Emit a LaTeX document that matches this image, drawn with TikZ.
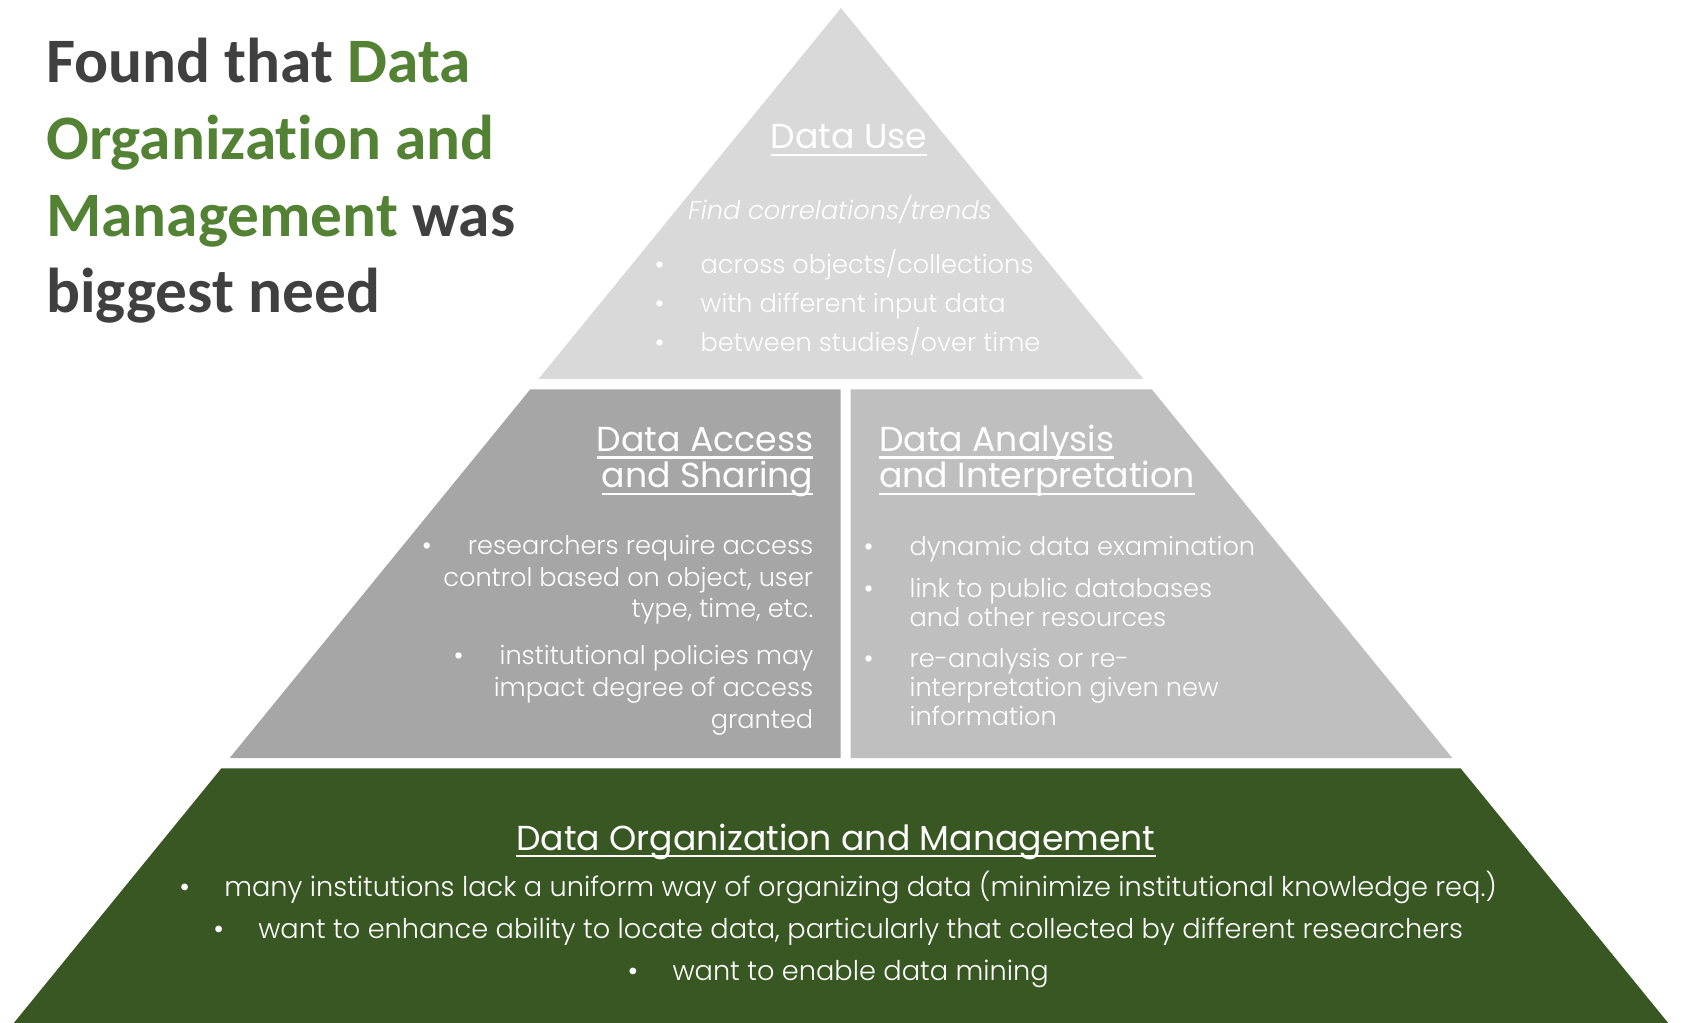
\documentclass[tikz,border=0pt]{standalone}
\usepackage{fontspec}
\setmainfont{Carlito}[Ligatures=NoCommon]
\newfontfamily\gothic{Poppins}
\newfontfamily\gothiclight{Poppins}[UprightFont={* Light},ItalicFont={* Light Italic}]
\usepackage{tikz}

\definecolor{titlegray}{HTML}{404040}
\definecolor{titlegreen}{HTML}{548235}
\definecolor{usegray}{HTML}{D9D9D9}
\definecolor{accessgray}{HTML}{A6A6A6}
\definecolor{analysisgray}{HTML}{BFBFBF}
\definecolor{mgmtgreen}{HTML}{385723}

\newsavebox{\headbox}
\newcommand{\uhead}[1]{\sbox{\headbox}{#1}\rlap{\rule[-5.6pt]{\wd\headbox}{1.9pt}}\usebox{\headbox}}
\newcommand{\headfont}{\gothic\fontsize{26}{27.5}\selectfont}
\newcommand{\buldot}{{\gothic\textbullet}}
\newcommand{\bul}{\buldot\hspace{1.4em}}

\begin{document}
\begin{tikzpicture}[x=0.75pt,y=0.75pt,yscale=-1,xscale=1]
\path[use as bounding box] (0,0) rectangle (1682,1023);

%Shape: Triangle [id:datause]
\fill[usegray] (841,8) -- (1143.5,379) -- (538.5,379) -- cycle ;
%Shape: Trapezoid [id:dataaccess]
\fill[accessgray] (530.1,389.5) -- (840.5,389.5) -- (840.5,758) -- (229.7,758) -- cycle ;
%Shape: Trapezoid [id:dataanalysis]
\fill[analysisgray] (850.5,389.5) -- (1151.9,389.5) -- (1452.3,758) -- (850.5,758) -- cycle ;
%Shape: Trapezoid [id:datamgmt]
\fill[mgmtgreen] (221.4,768.3) -- (1460.6,768.3) -- (1668.2,1023) -- (13.8,1023) -- cycle ;

% Text Node
\draw (46,313) node [anchor=base west][inner sep=0pt][align=left][text=titlegray][font=\fontsize{47.5}{57.5}\selectfont\bfseries]  (title) {Found that \textcolor{titlegreen}{Data}\\\textcolor{titlegreen}{Organization and}\\\textcolor{titlegreen}{Management} was\\biggest need};

% Text Node
\draw (849,149) node [anchor=base][inner sep=0pt][text=white][font=\headfont]  (usehead) {\uhead{Data Use}};
% Text Node
\draw (840,220) node [anchor=base][inner sep=0pt][text=white][font=\gothiclight\fontsize{19.3}{22}\selectfont\itshape]  (usesub) {Find correlations/trends};
% Text Node
\draw (654,352) node [anchor=base west][inner sep=0pt][align=left][text=white][font=\gothiclight\fontsize{19.2}{29.6}\selectfont]  (useitems) {\bul across objects/collections\\\bul with different input data\\\bul between studies/over time};

% Text Node
\draw (813.5,488) node [anchor=base east][inner sep=0pt][align=right][text=white][font=\headfont]  (accesshead) {\uhead{Data Access}\\\uhead{and Sharing}};
% Text Node
\draw (813.5,728) node [anchor=base east][inner sep=0pt][align=right][text=white][font=\gothiclight\fontsize{19.2}{23.8}\selectfont]  (accessitems) {\bul researchers require access\\control based on object, user\\type, time, etc.\\[11.2pt]\bul institutional policies may\\impact degree of access\\granted};

% Text Node
\draw (879,488) node [anchor=base west][inner sep=0pt][align=left][text=white][font=\headfont]  (analysishead) {\uhead{Data Analysis}\\\uhead{and Interpretation}};
% Text Node
\draw (863,725) node [anchor=base west][inner sep=0pt][align=left][text=white][font=\gothiclight\fontsize{19.2}{21.5}\selectfont]  (analysisitems) {\bul dynamic data examination\\[9.75pt]\bul link to public databases\\\phantom{\bul}and other resources\\[9.75pt]\bul re-analysis or re-\\\phantom{\bul}interpretation given new\\\phantom{\bul}information};

% Text Node
\draw (836,850) node [anchor=base][inner sep=0pt][text=white][font=\headfont]  (mgmthead) {\uhead{Data Organization and Management}};
% Text Node
\draw (838,980) node [anchor=base][inner sep=0pt][align=center][text=white][font=\gothiclight\fontsize{20.4}{31.3}\selectfont]  (mgmtitems) {\buldot\hspace{1.25em}many institutions lack a uniform way of organizing data (minimize institutional knowledge req.)\\\buldot\hspace{1.25em}want to enhance ability to locate data, particularly that collected by different researchers\\\buldot\hspace{1.25em}want to enable data mining};

\end{tikzpicture}
\end{document}
